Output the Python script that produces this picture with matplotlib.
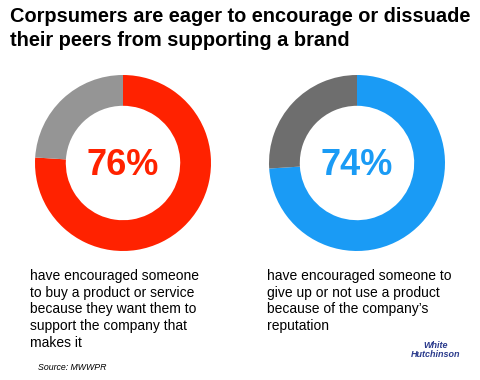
import matplotlib
matplotlib.use("Agg")
import matplotlib.pyplot as plt

# chart data
title = "Corpsumers are eager to encourage or dissuade\ntheir peers from supporting a brand"
shares = [76, 74]
share_colors = ["#FF2200", "#1A9BF5"]
rest_colors = ["#959595", "#6E6E6E"]
captions = [
    "have encouraged someone\nto buy a product or service\nbecause they want them to\nsupport the company that\nmakes it",
    "have encouraged someone to\ngive up or not use a product\nbecause of the company\u2019s\nreputation",
]
source = "Source: MWWPR"

W, H = 480, 380
plt.rcParams['font.family'] = ['Liberation Sans', 'DejaVu Sans']
fig = plt.figure(figsize=(W / 100, H / 100), dpi=100)
fig.patch.set_facecolor("white")

fig.text(10 / W, 1 - 7 / H, title, fontsize=14.4, fontweight="bold",
         va="top", ha="left", linespacing=1.3)

centers = [(123, 163), (357, 163)]
r = 88
text_x = [30, 267]
for i, (cx, cy) in enumerate(centers):
    ax = fig.add_axes([(cx - r) / W, (H - cy - r) / H, 2 * r / W, 2 * r / H])
    ax.pie([shares[i], 100 - shares[i]], colors=[share_colors[i], rest_colors[i]],
           startangle=90, counterclock=False, radius=1,
           wedgeprops=dict(width=0.35, linewidth=0))
    ax.set_xlim(-1, 1)
    ax.set_ylim(-1, 1)
    ax.set_aspect("equal")
    ax.axis("off")
    ax.text(0, -0.03, "%d%%" % shares[i], color=share_colors[i], fontsize=26,
            fontweight="bold", ha="center", va="center")
    fig.text(text_x[i] / W, 1 - 269 / H, captions[i], fontsize=10,
             va="top", ha="left", linespacing=1.25)

fig.text(38 / W, 1 - 370 / H, source, fontsize=6.3, style="italic",
         va="baseline", ha="left")

# logo stand-in
fig.text(436 / W, 1 - 350 / H, "White\nHutchinson", fontsize=6.5, style="italic",
         fontweight="bold", color="#2A3A8C", ha="center", va="center",
         linespacing=0.9)

fig.savefig("out.png", dpi=100, facecolor="white")
